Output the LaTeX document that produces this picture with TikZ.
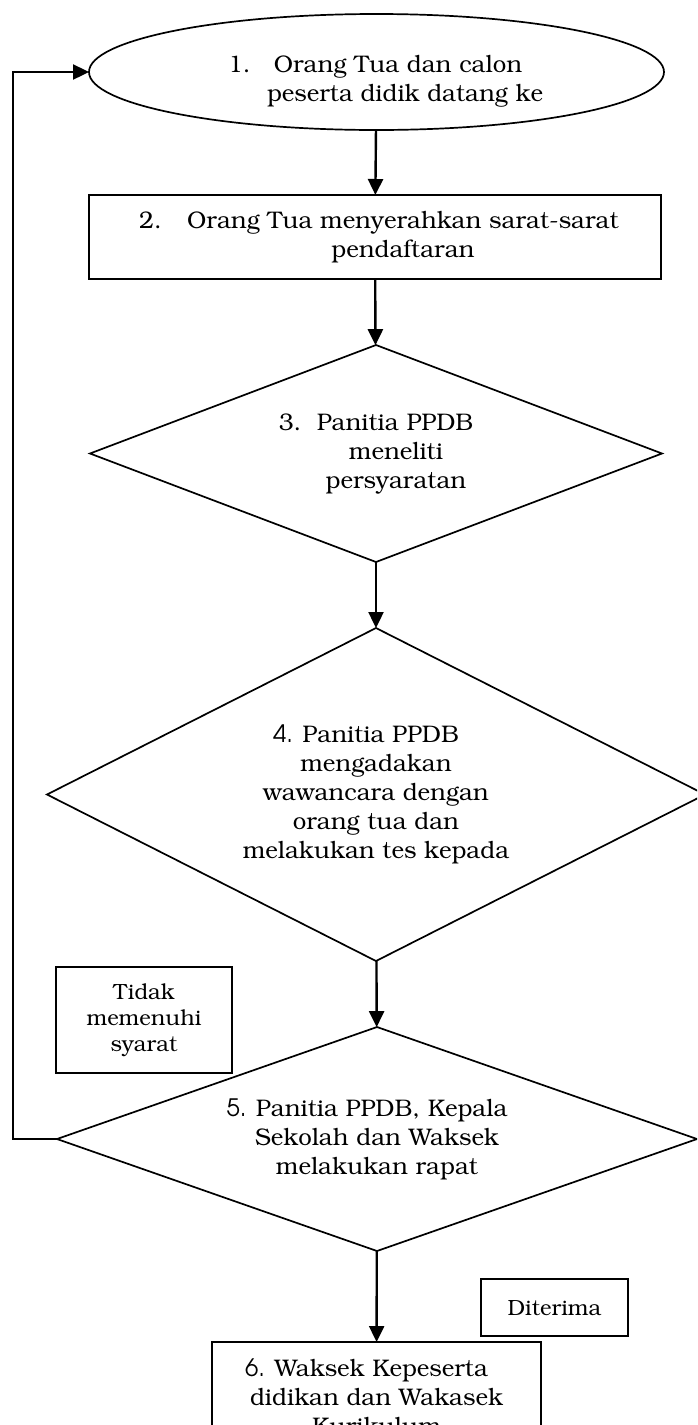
\documentclass[tikz,border=0pt]{standalone}
\usepackage[T1]{fontenc}
\usepackage{bookman}
\usetikzlibrary{shapes.geometric,arrows.meta}

\begin{document}
\begin{tikzpicture}[x=.5pt, y=-.5pt, line width=.85pt,
  every node/.style={font=\fontsize{12}{14.5}\selectfont, inner sep=0pt, outer sep=0pt},
  fleche/.style={line width=1.2pt, -{Triangle[length=8pt,width=7.5pt]}},
  boite/.style={draw, rectangle, align=center},
  losange/.style={draw, diamond, align=center},
  note/.style={draw, rectangle, align=center, font=\fontsize{11}{13}\selectfont}]

\useasboundingbox (0,0) rectangle (697,1425);
\clip (0,0) rectangle (697,1425);

%% Les etapes.

\node[draw, ellipse, align=left, minimum width=287.5pt, minimum height=58pt] (e1) at (376.5,72)
  {\rule{0pt}{18pt}\hspace*{9pt}\makebox[23pt][l]{1.}Orang Tua dan calon\\
   \hspace*{28.5pt}peserta didik datang ke};

\node[boite, minimum width=286pt, minimum height=42pt] (e2) at (375,237)
  {\hspace*{4pt}\makebox[24pt][l]{2.}Orang Tua menyerahkan sarat-sarat\\
   \hspace*{28pt}pendaftaran};

\node[losange, aspect=2.6, minimum width=286pt, minimum height=108.5pt] (e3) at (376,453.5)
  {\makebox[19pt][l]{3.}Panitia PPDB\\ \hspace*{20pt}meneliti\\ \hspace*{20pt}persyaratan};

\node[losange, aspect=2, minimum width=329pt, minimum height=166.5pt] (e4) at (376,794.5)
  {\textsf{4.} Panitia PPDB\hspace*{10pt}\\ mengadakan\\ wawancara dengan\\
   orang tua dan\\ melakukan tes kepada};

\node[losange, aspect=2.86, minimum width=320pt, minimum height=112pt] (e5) at (377,1139)
  {\textsf{5.} Panitia PPDB, Kepala\hspace*{10pt}\\ Sekolah dan Waksek\\ melakukan rapat};

\node[boite, minimum width=164.5pt, minimum height=55pt] (e6) at (376.5,1397)
  {\textsf{6.} Waksek Kepeserta\hspace*{10pt}\\ didikan dan Wakasek\\ Kurikulum};

%% Les conditions.

\node[note, minimum width=88pt, minimum height=53pt] (tidak) at (144,1020)
  {Tidak\\ memenuhi\\ syarat};
\node[note, minimum width=73.5pt, minimum height=28.5pt] (diterima) at (554.5,1307.5)
  {Diterima};

%% Les fleches.

\draw[fleche] (e1) -- (e2);
\draw[fleche] (e2) -- (e3);
\draw[fleche] (e3) -- (e4);
\draw[fleche] (e4) -- (e5);
\draw[fleche] (e5) -- (e6);

\coordinate (retour) at (13,1139);
\draw[fleche] (e5.west) -- (retour) |- (e1.west);

\end{tikzpicture}
\end{document}
